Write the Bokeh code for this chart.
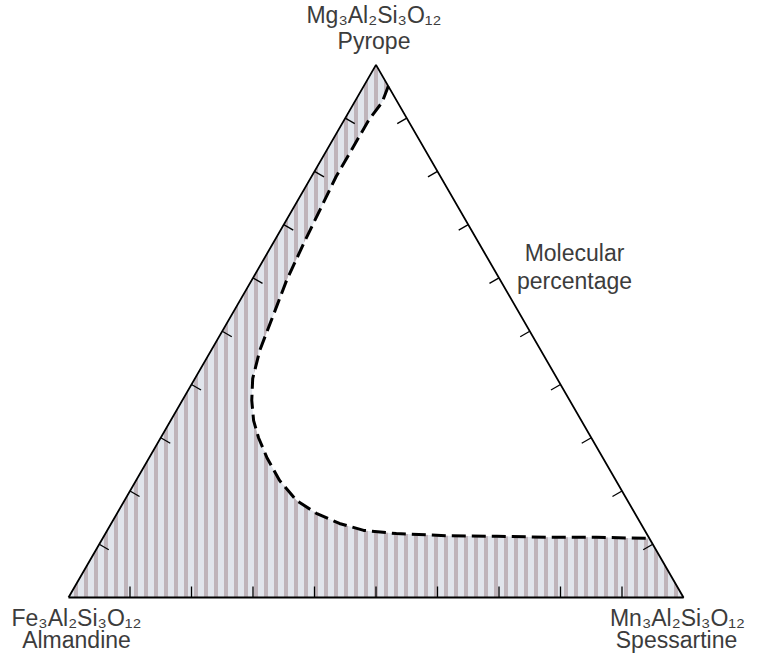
import math
from bokeh.plotting import figure
from bokeh.models import ColumnDataSource
from bokeh.core.properties import value
from bokeh.embed import file_html
from bokeh.resources import INLINE

# Boundary of the shaded field, molecular percentages (Almandine = 100 - Pyrope - Spessartine)
boundary_pyrope = [96, 93, 89.6, 84.5, 79, 72.7, 66.5, 59.5, 53, 46.4, 41.1, 37, 33.2,
                   30, 26.3, 22, 18.2, 15.8, 13.9, 12.6, 12, 11.6, 11.5, 11.3, 11.3, 11.1]
boundary_spessartine = [4, 4.5, 4, 4, 4, 4.5, 5, 5.7, 6.8, 7.9, 9.4, 11.3, 13.5,
                        15.9, 19.1, 23.3, 28, 32.4, 37.1, 41.7, 47.3, 55.6, 63.9, 72.1, 80.2, 88.9]

tick_values = [10, 20, 30, 40, 50, 60, 70, 80, 90]

formula_almandine = "Fe₃Al₂Si₃O₁₂"
formula_spessartine = "Mn₃Al₂Si₃O₁₂"
formula_pyrope = "Mg₃Al₂Si₃O₁₂"
name_almandine = "Almandine"
name_spessartine = "Spessartine"
name_pyrope = "Pyrope"
note_lines = ["Molecular", "percentage"]

R3 = math.sqrt(3) / 2


def tern(p, s):
    """Pyrope %, Spessartine % -> plot x, y (side length 1)."""
    return (s + p / 2.0) / 100.0, p * R3 / 100.0


W, H = 747, 654
SCALE = 615.0
X0, Y0 = 68.0, 57.0  # pixels from left / bottom of canvas to Almandine corner

p = figure(width=W, height=H, output_backend="svg", toolbar_location=None,
           x_range=(-X0 / SCALE, (W - X0) / SCALE),
           y_range=(-Y0 / SCALE, (H - Y0) / SCALE),
           x_axis_type=None, y_axis_type=None, min_border=0)
p.outline_line_color = None
p.grid.visible = False
p.background_fill_color = "white"

ax, ay = tern(0, 0)
sx, sy = tern(0, 100)
px_, py_ = tern(100, 0)

# shaded field
cx, cy = zip(*[tern(a, b) for a, b in zip(boundary_pyrope, boundary_spessartine)])
poly_x = [ax, px_] + list(cx) + [sx]
poly_y = [ay, py_] + list(cy) + [sy]
p.patch(poly_x, poly_y, fill_color="#e1e5ec", line_color=None,
        hatch_pattern="|", hatch_scale=10, hatch_weight=4, hatch_color="#b8abb2", hatch_alpha=0.85)

# dashed boundary
p.line(list(cx), list(cy), line_color="black", line_width=3, line_dash="14 6")

# triangle
p.line([ax, sx, px_, ax], [ay, sy, py_, ay], line_color="black", line_width=1.8)

# ticks (perpendicular, pointing inward)
L = 11 / SCALE
x0s, y0s, x1s, y1s = [], [], [], []
for t in tick_values:
    bx, by = tern(0, t)
    x0s.append(bx); y0s.append(by); x1s.append(bx); y1s.append(by + L)
    lx, ly = tern(t, 0)
    x0s.append(lx); y0s.append(ly); x1s.append(lx + L * R3); y1s.append(ly - L * 0.5)
    rx, ry = tern(t, 100 - t)
    x0s.append(rx); y0s.append(ry); x1s.append(rx - L * R3); y1s.append(ry - L * 0.5)
p.segment(x0s, y0s, x1s, y1s, line_color="black", line_width=1.3)

FONT = value("Liberation Sans")
COL = "#3c3c3c"
labels = ColumnDataSource(dict(
    x=[ax, ax, sx, sx, px_, px_],
    y=[ay, ay, sy, sy, py_, py_],
    text=[formula_almandine, name_almandine, formula_spessartine, name_spessartine,
          formula_pyrope, name_pyrope],
    xo=[8, 8, -6, -7, -2, -2],
    yo=[20, 42, 20, 42, -50, -24],
))
p.text(x="x", y="y", text="text", x_offset="xo", y_offset="yo", source=labels,
       text_font=FONT, text_font_size="23px", text_color=COL,
       text_align="center", text_baseline="middle")

nx = (578 - 72) / SCALE
p.text(x=[nx, nx], y=[(607 - 262) / SCALE, (607 - 290) / SCALE], text=note_lines,
       text_font=FONT, text_font_size="23px", text_color=COL,
       text_align="center", text_baseline="middle")

open("out.html", "w").write(file_html(p, INLINE))
